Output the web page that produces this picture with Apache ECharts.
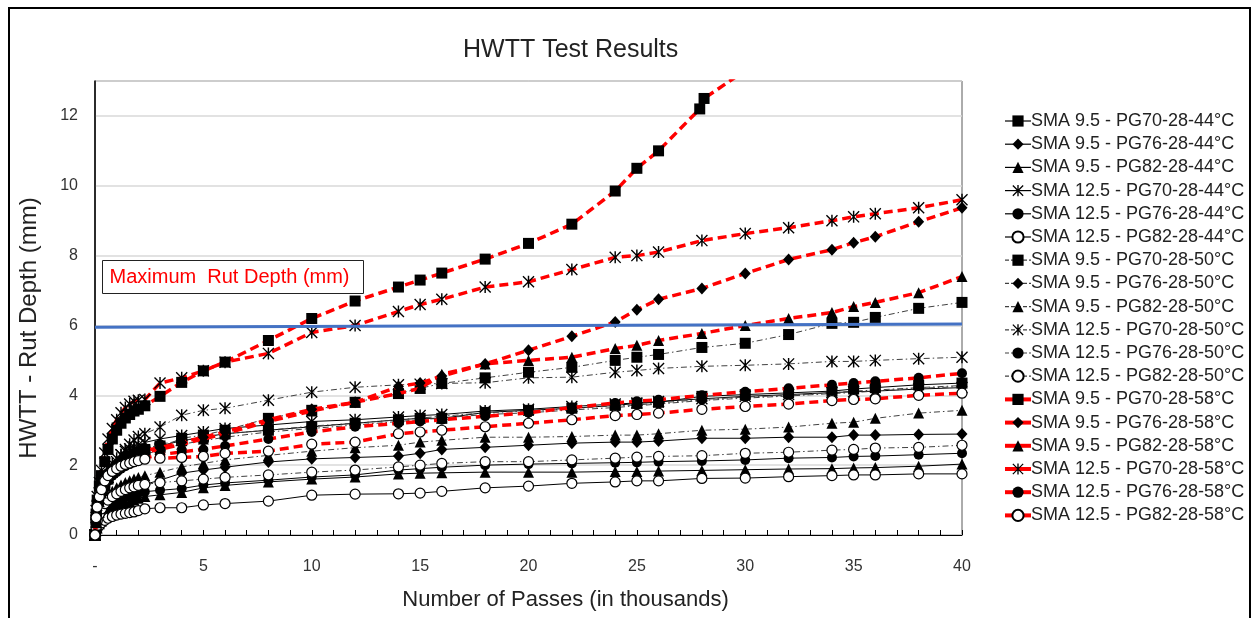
<!DOCTYPE html>
<html>
<head>
<meta charset="utf-8">
<title>HWTT Test Results</title>
<script src="https://cdn.jsdelivr.net/npm/echarts@6/dist/echarts.min.js"></script>
<style>
  html, body { margin: 0; padding: 0; background: #fff; }
  #chart { width: 1257px; height: 618px; }
</style>
</head>
<body>
<div id="chart"></div>
<script>
// Number of wheel passes (thousands) at which rut depth was recorded
const passes = [0, 0.05, 0.1, 0.2, 0.3, 0.45, 0.6, 0.8, 1.0, 1.2, 1.4, 1.6, 1.8, 2.0, 2.3,
  3, 4, 5, 6, 8, 10, 12, 14, 15, 16, 18, 20, 22, 24, 25, 26, 28, 30, 32, 34, 35, 36, 38, 40];
// SMA 9.5 PG70-28 at 58°C failed early, so its readings stop sooner
const passesPG70_95_58 = [0, 0.05, 0.1, 0.2, 0.3, 0.45, 0.6, 0.8, 1.0, 1.2, 1.4, 1.6, 1.8, 2.0, 2.3,
  3, 4, 5, 6, 8, 10, 12, 14, 15, 16, 18, 20, 22, 24, 25, 26, 27.9, 28.1, 30];

// Rut depth (mm) — 44°C
const sma95_pg70_44 = [0, 0.45, 0.75, 1.05, 1.3, 1.5, 1.65, 1.8, 1.92, 2.02, 2.1, 2.18, 2.25, 2.3, 2.4,
  2.55, 2.7, 2.8, 2.9, 3.0, 3.1, 3.2, 3.3, 3.34, 3.34, 3.51, 3.57, 3.63, 3.71, 3.77, 3.8, 3.97, 4.02, 4.07, 4.12, 4.18, 4.22, 4.3, 4.35];
const sma95_pg76_44 = [0, 0.25, 0.4, 0.55, 0.65, 0.8, 0.9, 1.0, 1.1, 1.18, 1.25, 1.3, 1.35, 1.4, 1.45,
  1.57, 1.77, 1.86, 1.94, 2.09, 2.18, 2.22, 2.26, 2.34, 2.45, 2.51, 2.57, 2.63, 2.66, 2.66, 2.69, 2.77, 2.77, 2.8, 2.8, 2.86, 2.86, 2.88, 2.89];
const sma95_pg82_44 = [0, 0.12, 0.2, 0.32, 0.4, 0.5, 0.6, 0.7, 0.78, 0.85, 0.9, 0.95, 1.0, 1.05, 1.1,
  1.15, 1.22, 1.35, 1.42, 1.52, 1.6, 1.66, 1.75, 1.77, 1.78, 1.8, 1.8, 1.8, 1.82, 1.82, 1.83, 1.85, 1.87, 1.89, 1.9, 1.92, 1.93, 1.97, 2.03];
const sma125_pg70_44 = [0, 0.5, 0.85, 1.2, 1.45, 1.7, 1.9, 2.05, 2.2, 2.3, 2.4, 2.47, 2.53, 2.58, 2.65,
  2.75, 2.85, 2.95, 3.05, 3.15, 3.25, 3.3, 3.38, 3.42, 3.45, 3.55, 3.6, 3.68, 3.75, 3.78, 3.82, 3.9, 3.97, 4.02, 4.08, 4.1, 4.12, 4.18, 4.22];
const sma125_pg76_44 = [0, 0.18, 0.3, 0.45, 0.55, 0.68, 0.78, 0.88, 0.95, 1.02, 1.08, 1.12, 1.16, 1.2, 1.24,
  1.28, 1.33, 1.43, 1.49, 1.57, 1.66, 1.72, 1.86, 1.9, 1.94, 2.0, 2.03, 2.05, 2.07, 2.08, 2.1, 2.12, 2.15, 2.2, 2.22, 2.25, 2.26, 2.3, 2.34];
const sma125_pg82_44 = [0, 0.1, 0.18, 0.27, 0.35, 0.42, 0.48, 0.53, 0.57, 0.6, 0.62, 0.64, 0.66, 0.7, 0.75,
  0.78, 0.78, 0.86, 0.9, 0.97, 1.14, 1.17, 1.18, 1.2, 1.25, 1.35, 1.4, 1.48, 1.52, 1.55, 1.55, 1.62, 1.63, 1.67, 1.7, 1.72, 1.72, 1.75, 1.75];

// Rut depth (mm) — 50°C
const sma95_pg70_50 = [0, 0.35, 0.6, 0.9, 1.15, 1.4, 1.6, 1.8, 1.95, 2.07, 2.17, 2.25, 2.32, 2.38, 2.45,
  2.5, 2.77, 2.86, 3.0, 3.34, 3.57, 3.8, 4.05, 4.2, 4.34, 4.5, 4.66, 4.8, 5.0, 5.09, 5.17, 5.37, 5.49, 5.74, 6.06, 6.09, 6.23, 6.49, 6.66];
const sma95_pg76_50 = [0, 0.4, 0.7, 1.0, 1.25, 1.45, 1.6, 1.75, 1.87, 1.97, 2.05, 2.12, 2.18, 2.22, 2.3,
  2.45, 2.6, 2.7, 2.8, 2.95, 3.05, 3.15, 3.25, 3.3, 3.35, 3.45, 3.5, 3.58, 3.65, 3.7, 3.75, 3.85, 3.92, 3.98, 4.05, 4.08, 4.12, 4.2, 4.25];
const sma95_pg82_50 = [0, 0.25, 0.45, 0.65, 0.82, 1.0, 1.12, 1.25, 1.35, 1.43, 1.5, 1.55, 1.6, 1.65, 1.7,
  1.8, 1.95, 2.05, 2.15, 2.28, 2.4, 2.5, 2.57, 2.66, 2.71, 2.8, 2.8, 2.82, 2.86, 2.86, 2.9, 3.0, 3.03, 3.09, 3.2, 3.23, 3.34, 3.49, 3.57];
const sma125_pg70_50 = [0, 0.3, 0.55, 0.85, 1.1, 1.4, 1.65, 1.9, 2.1, 2.3, 2.45, 2.6, 2.72, 2.82, 2.9,
  3.09, 3.43, 3.57, 3.63, 3.86, 4.09, 4.23, 4.3, 4.32, 4.34, 4.36, 4.5, 4.52, 4.66, 4.71, 4.77, 4.83, 4.86, 4.9, 4.97, 4.97, 5.0, 5.05, 5.09];
const sma125_pg76_50 = [0, 0.45, 0.8, 1.1, 1.35, 1.6, 1.78, 1.92, 2.03, 2.12, 2.2, 2.27, 2.33, 2.38, 2.45,
  2.6, 2.7, 2.8, 2.9, 3.0, 3.12, 3.2, 3.3, 3.35, 3.4, 3.5, 3.55, 3.62, 3.7, 3.72, 3.78, 3.88, 3.95, 4.0, 4.07, 4.12, 4.15, 4.22, 4.28];
const sma125_pg82_50 = [0, 0.2, 0.4, 0.6, 0.75, 0.9, 1.0, 1.1, 1.18, 1.25, 1.3, 1.35, 1.38, 1.42, 1.45,
  1.5, 1.55, 1.6, 1.65, 1.72, 1.8, 1.86, 1.95, 2.0, 2.05, 2.1, 2.1, 2.15, 2.2, 2.23, 2.25, 2.27, 2.34, 2.37, 2.43, 2.45, 2.49, 2.51, 2.57];

// Rut depth (mm) — 58°C
const sma95_pg70_58 = [0, 0.6, 1.0, 1.4, 1.7, 2.1, 2.45, 2.75, 3.0, 3.2, 3.35, 3.45, 3.55, 3.6, 3.7,
  3.97, 4.37, 4.7, 4.95, 5.57, 6.2, 6.7, 7.1, 7.3, 7.5, 7.9, 8.35, 8.9, 9.85, 10.5, 11.0, 12.2, 12.5, 13.3];
const sma95_pg76_58 = [0, 0.4, 0.7, 1.0, 1.25, 1.5, 1.7, 1.85, 1.95, 2.05, 2.15, 2.22, 2.3, 2.35, 2.42,
  2.5, 2.65, 2.8, 2.95, 3.3, 3.6, 3.8, 4.25, 4.35, 4.55, 4.9, 5.29, 5.69, 6.1, 6.45, 6.75, 7.06, 7.49, 7.89, 8.17, 8.37, 8.54, 8.97, 9.37];
const sma95_pg82_58 = [0, 0.35, 0.65, 0.95, 1.2, 1.45, 1.65, 1.8, 1.9, 2.0, 2.1, 2.18, 2.25, 2.3, 2.38,
  2.45, 2.6, 2.75, 2.9, 3.25, 3.55, 3.8, 4.05, 4.2, 4.6, 4.9, 5.0, 5.09, 5.34, 5.43, 5.57, 5.77, 6.0, 6.2, 6.37, 6.54, 6.66, 6.94, 7.4];
const sma125_pg70_58 = [0, 0.7, 1.1, 1.5, 1.85, 2.35, 2.75, 3.05, 3.3, 3.5, 3.65, 3.75, 3.83, 3.86, 3.88,
  4.35, 4.5, 4.7, 4.95, 5.2, 5.8, 6.0, 6.4, 6.6, 6.75, 7.1, 7.25, 7.6, 7.95, 8.0, 8.1, 8.43, 8.63, 8.8, 9.0, 9.11, 9.2, 9.37, 9.6];
const sma125_pg76_58 = [0, 0.35, 0.6, 0.9, 1.15, 1.35, 1.55, 1.7, 1.8, 1.9, 1.97, 2.03, 2.08, 2.13, 2.2,
  2.3, 2.38, 2.45, 2.55, 2.75, 2.95, 3.1, 3.2, 3.25, 3.3, 3.4, 3.5, 3.65, 3.78, 3.83, 3.87, 4.0, 4.1, 4.2, 4.3, 4.35, 4.4, 4.5, 4.63];
const sma125_pg82_58 = [0, 0.5, 0.8, 1.1, 1.3, 1.55, 1.7, 1.82, 1.9, 1.97, 2.02, 2.06, 2.1, 2.13, 2.17,
  2.2, 2.22, 2.25, 2.34, 2.4, 2.6, 2.66, 2.9, 2.95, 3.0, 3.1, 3.2, 3.3, 3.42, 3.45, 3.49, 3.6, 3.68, 3.75, 3.85, 3.88, 3.9, 4.0, 4.06];

// Rut depth limit line (mm), drawn across the full pass range
const maxRutDepthPasses = [0, 40];
const maxRutDepth = [5.95, 6.04];
const maxRutLabel = 'Maximum  Rut Depth (mm)';

const yTicks = [0, 2, 4, 6, 8, 10, 12];

// Asterisk marker: vertical bar plus two diagonals
const STAR = 'path://M-0.6,-5L0.6,-5L0.6,5L-0.6,5Z M-5,-4.2L-4.2,-5L5,4.2L4.2,5Z M4.2,-5L5,-4.2L-4.2,5L-5,4.2Z';

const markerStyles = {
  square:   { symbol: 'rect', symbolSize: 11, fill: '#000' },
  diamond:  { symbol: 'diamond', symbolSize: [11, 12], fill: '#000' },
  triangle: { symbol: 'triangle', symbolSize: 11, fill: '#000' },
  star:     { symbol: STAR, symbolSize: 12, fill: '#000' },
  dot:      { symbol: 'circle', symbolSize: 10, fill: '#000' },
  ring:     { symbol: 'circle', symbolSize: 10, fill: '#fff' }
};

const lineStyles = {
  solid:   { color: '#000', width: 1, type: 'solid' },
  dashdot: { color: '#404040', width: 1, type: [6, 3, 1.5, 3] },
  red:     { color: '#ff0000', width: 3.5, type: [9, 5] }
};

function makeSeries(name, xs, ys, marker, line) {
  const m = markerStyles[marker];
  const l = lineStyles[line];
  return {
    name: name,
    type: 'line',
    data: xs.map((x, i) => [x, ys[i]]),
    symbol: m.symbol,
    symbolSize: m.symbolSize,
    showAllSymbol: true,
    clip: true,
    lineStyle: { color: l.color, width: l.width, type: l.type },
    itemStyle: { color: m.fill, borderColor: '#000', borderWidth: marker === 'ring' ? 1.2 : 0 },
    emphasis: { disabled: true },
    z: line === 'red' ? 4 : 3,
    legendLine: line
  };
}

const seriesList = [
  makeSeries('SMA 9.5 - PG70-28-44°C', passes, sma95_pg70_44, 'square', 'solid'),
  makeSeries('SMA 9.5 - PG76-28-44°C', passes, sma95_pg76_44, 'diamond', 'solid'),
  makeSeries('SMA 9.5 - PG82-28-44°C', passes, sma95_pg82_44, 'triangle', 'solid'),
  makeSeries('SMA 12.5 - PG70-28-44°C', passes, sma125_pg70_44, 'star', 'solid'),
  makeSeries('SMA 12.5 - PG76-28-44°C', passes, sma125_pg76_44, 'dot', 'solid'),
  makeSeries('SMA 12.5 - PG82-28-44°C', passes, sma125_pg82_44, 'ring', 'solid'),
  makeSeries('SMA 9.5 - PG70-28-50°C', passes, sma95_pg70_50, 'square', 'dashdot'),
  makeSeries('SMA 9.5 - PG76-28-50°C', passes, sma95_pg76_50, 'diamond', 'dashdot'),
  makeSeries('SMA 9.5 - PG82-28-50°C', passes, sma95_pg82_50, 'triangle', 'dashdot'),
  makeSeries('SMA 12.5 - PG70-28-50°C', passes, sma125_pg70_50, 'star', 'dashdot'),
  makeSeries('SMA 12.5 - PG76-28-50°C', passes, sma125_pg76_50, 'dot', 'dashdot'),
  makeSeries('SMA 12.5 - PG82-28-50°C', passes, sma125_pg82_50, 'ring', 'dashdot'),
  makeSeries('SMA 9.5 - PG70-28-58°C', passesPG70_95_58, sma95_pg70_58, 'square', 'red'),
  makeSeries('SMA 9.5 - PG76-28-58°C', passes, sma95_pg76_58, 'diamond', 'red'),
  makeSeries('SMA 9.5 - PG82-28-58°C', passes, sma95_pg82_58, 'triangle', 'red'),
  makeSeries('SMA 12.5 - PG70-28-58°C', passes, sma125_pg70_58, 'star', 'red'),
  makeSeries('SMA 12.5 - PG76-28-58°C', passes, sma125_pg76_58, 'dot', 'red'),
  makeSeries('SMA 12.5 - PG82-28-58°C', passes, sma125_pg82_58, 'ring', 'red')
];

// Legend entries carry the series line look (thick red for 58°C)
const legendData = seriesList.map(s => {
  const l = lineStyles[s.legendLine];
  return {
    name: s.name,
    lineStyle: { color: l.color, width: s.legendLine === 'red' ? 4 : 1.2, type: s.legendLine === 'dashdot' ? [4, 2] : 'solid' }
  };
});
seriesList.forEach(s => { delete s.legendLine; });

// Limit line (not listed in the legend)
seriesList.push({
  name: 'limit',
  type: 'line',
  data: maxRutDepthPasses.map((x, i) => [x, maxRutDepth[i]]),
  symbol: 'none',
  lineStyle: { color: '#4472c4', width: 3 },
  emphasis: { disabled: true },
  z: 5
});

const FONT = 'Liberation Sans, Arial, sans-serif';

const chart = echarts.init(document.getElementById('chart'), null, { renderer: 'canvas' });
chart.setOption({
  animation: false,
  backgroundColor: '#fff',
  textStyle: { fontFamily: FONT },
  title: {
    text: 'HWTT Test Results',
    left: 458,
    top: 33,
    textStyle: { fontFamily: FONT, fontSize: 25, fontWeight: 'normal', color: '#222' }
  },
  grid: {
    left: 95, right: 295, top: 81, bottom: 83,
    show: true, borderColor: '#595959', borderWidth: 1, containLabel: false
  },
  legend: {
    orient: 'vertical',
    left: 998,
    top: 107,
    itemWidth: 26,
    itemHeight: 14,
    itemGap: 5.2,
    data: legendData,
    textStyle: { fontFamily: FONT, fontSize: 18, color: '#222', lineHeight: 18, padding: [0, 0, 0, -5] },
    selectedMode: false
  },
  xAxis: {
    type: 'value',
    min: 0, max: 40, interval: 1,
    name: 'Number of Passes (in thousands)',
    nameLocation: 'middle',
    nameGap: 54,
    nameTextStyle: { fontFamily: FONT, fontSize: 22, color: '#222', padding: [0, 0, 0, 74] },
    axisLine: { show: true, lineStyle: { color: '#000', width: 1 } },
    axisTick: { show: true, inside: true, length: 5, lineStyle: { color: '#000' } },
    axisLabel: {
      margin: 24, fontSize: 16, color: '#333', fontFamily: FONT,
      formatter: v => (v === 0 ? '-' : (v % 5 === 0 ? String(v) : ''))
    },
    splitLine: { show: false }
  },
  yAxis: {
    type: 'value',
    min: 0, max: 13, interval: 2,
    name: 'HWTT - Rut Depth (mm)',
    nameLocation: 'middle',
    nameGap: 54,
    nameTextStyle: { fontFamily: FONT, fontSize: 24, color: '#222', padding: [0, 40, 0, 0] },
    axisLine: { show: true, lineStyle: { color: '#000', width: 1.5 } },
    axisTick: { show: false },
    axisLabel: {
      margin: 17, fontSize: 16, color: '#333', fontFamily: FONT,
      formatter: v => (yTicks.includes(v) ? String(v) : '')
    },
    splitLine: { show: true, lineStyle: { color: '#d9d9d9', width: 1.5 } }
  },
  graphic: [
    {
      type: 'rect',
      shape: { x: 9, y: 8, width: 1241, height: 700 },
      style: { fill: 'none', stroke: '#000', lineWidth: 2 },
      silent: true, z: 0
    },
    {
      type: 'group',
      left: 102, top: 260, z: 10,
      children: [
        { type: 'rect', shape: { x: 0, y: 0, width: 261, height: 33 },
          style: { fill: '#fff', stroke: '#222', lineWidth: 1 } },
        { type: 'text', x: 7, y: 16.5,
          style: { text: maxRutLabel, fill: '#ff0000', font: '20px ' + FONT, verticalAlign: 'middle' } }
      ]
    }
  ],
  series: seriesList
});
</script>
</body>
</html>
